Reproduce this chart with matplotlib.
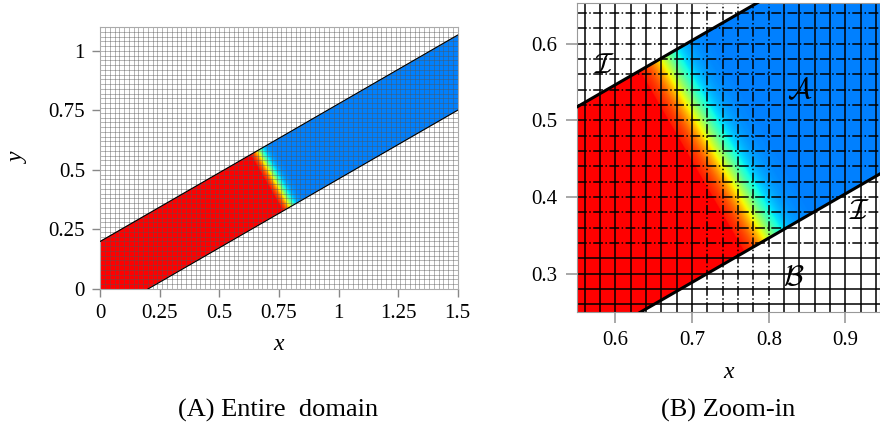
import numpy as np
import matplotlib.pyplot as plt
from matplotlib.colors import ListedColormap

plt.rcParams['font.family'] = ['Liberation Serif', 'DejaVu Serif']
plt.rcParams['mathtext.fontset'] = 'cm'

# channel geometry (tilted strip) and interface data
angle_deg = 30.0
upper_y0 = 0.2          # upper wall crosses x = 0 here
lower_x0 = 0.2          # lower wall crosses y = 0 here
interface_s = 0.865     # interface position along the channel axis
interface_w = 0.026     # interface thickness
phase_values = [1.0, 0.0]   # phase fraction left / right of the interface

# mesh spacing
cell_coarse = 0.02
cell_zoom = 0.02

# axes ranges
full_xlim = [0.0, 1.5]
full_ylim = [0.0, 1.1]
zoom_xlim = [0.55, 0.945]
zoom_ylim = [0.25, 0.653]
full_xticks = [0, 0.25, 0.5, 0.75, 1, 1.25, 1.5]
full_xlabels = ['0', '0.25', '0.5', '0.75', '1', '1.25', '1.5']
full_yticks = [0, 0.25, 0.5, 0.75, 1]
full_ylabels = ['0', '0.25', '0.5', '0.75', '1']
zoom_xticks = [0.6, 0.7, 0.8, 0.9]
zoom_yticks = [0.3, 0.4, 0.5, 0.6]

# region labels in the zoom panel
region_names = [r'$\mathcal{I}$', r'$\mathcal{A}$', r'$\mathcal{I}$', r'$\mathcal{B}$']
region_x = [0.586, 0.84, 0.918, 0.833]
region_y = [0.571, 0.539, 0.380, 0.294]

tan_a = np.tan(np.radians(angle_deg))
cos_a = np.cos(np.radians(angle_deg))
sin_a = np.sin(np.radians(angle_deg))

# colour scale: middle part of jet, light blue (phase 0) up to pure red (phase 1)
jet_part = plt.get_cmap('jet')(np.linspace(0.25, 0.88, 240))
red_end = np.tile([1.0, 0.0, 0.0, 1.0], (16, 1))
phase_cmap = ListedColormap(np.vstack([jet_part, red_end]))


def field(xlim, ylim, n=700):
    x = np.linspace(xlim[0], xlim[1], n)
    y = np.linspace(ylim[0], ylim[1], n)
    X, Y = np.meshgrid(x, y)
    s = X * cos_a + Y * sin_a
    c = phase_values[1] + (phase_values[0] - phase_values[1]) * \
        0.5 * (1 - np.tanh((s - interface_s) / interface_w))
    inside = (Y <= upper_y0 + X * tan_a) & (Y >= (X - lower_x0) * tan_a)
    return np.ma.masked_where(~inside, c)


def walls(ax, xlim, lw):
    xs = np.array([xlim[0], xlim[1]])
    ax.plot(xs, upper_y0 + xs * tan_a, color='black', lw=lw, zorder=4)
    ax.plot(xs, (xs - lower_x0) * tan_a, color='black', lw=lw, zorder=4)


fig = plt.figure(figsize=(8.8, 4.3), dpi=100)

# ----- entire domain -----
ax1 = fig.add_axes([0.1136, 0.3279, 0.4068, 0.6093])
ax1.imshow(field(full_xlim, full_ylim), origin='lower', cmap=phase_cmap,
           vmin=0, vmax=1, extent=full_xlim + full_ylim,
           interpolation='bilinear', zorder=1)
for gx in np.arange(0, full_xlim[1] + 1e-9, cell_coarse):
    ax1.axvline(gx, color='#555555', lw=0.5, alpha=0.6, zorder=2)
for gy in np.arange(0, full_ylim[1] + 1e-9, cell_coarse):
    ax1.axhline(gy, color='#555555', lw=0.5, alpha=0.6, zorder=2)
walls(ax1, full_xlim, 0.8)
ax1.set_xlim(full_xlim)
ax1.set_ylim(full_ylim)
ax1.set_aspect('equal')
ax1.set_xticks(full_xticks, full_xlabels)
ax1.set_yticks(full_yticks, full_ylabels)
ax1.tick_params(direction='out', length=6, width=1.0, color='#888888',
                labelsize=15, pad=5)
for sp in ax1.spines.values():
    sp.set_color('#aaaaaa')
ax1.set_xlabel('x', fontsize=17, fontstyle='italic', labelpad=8)
ax1.set_ylabel('y', fontsize=17, fontstyle='italic', labelpad=14)

# ----- zoom-in -----
ax2 = fig.add_axes([0.6557, 0.2744, 0.3443, 0.7186])
ax2.imshow(field(zoom_xlim, zoom_ylim), origin='lower', cmap=phase_cmap,
           vmin=0, vmax=1, extent=zoom_xlim + zoom_ylim,
           interpolation='bilinear', zorder=1)
for gx in np.arange(0.56, zoom_xlim[1], cell_zoom):
    ls = '-.' if 0.71 < gx < 0.81 else '-'
    ax2.axvline(gx, color='black', lw=1.1, ls=ls, zorder=2)
for gy in np.arange(0.26, zoom_ylim[1], cell_zoom):
    ls = '-.' if gy > 0.33 else '-'
    ax2.axhline(gy, color='black', lw=1.1, ls=ls, zorder=2)
walls(ax2, zoom_xlim, 2.2)
for name, tx, ty in zip(region_names, region_x, region_y):
    ax2.text(tx, ty, name, fontsize=21, ha='center', va='center', zorder=5)
ax2.set_xlim(zoom_xlim)
ax2.set_ylim(zoom_ylim)
ax2.set_aspect('equal')
ax2.set_xticks(zoom_xticks, ['0.6', '0.7', '0.8', '0.9'])
ax2.set_yticks(zoom_yticks, ['0.3', '0.4', '0.5', '0.6'])
ax2.tick_params(direction='out', length=8, width=1.2, color='#999999',
                labelsize=15, pad=6)
for sp in ax2.spines.values():
    sp.set_color('#999999')
ax2.set_xlabel('x', fontsize=17, fontstyle='italic', labelpad=8)

fig.text(0.316, 0.046, '(A) Entire  domain', fontsize=19, ha='center', va='center')
fig.text(0.827, 0.046, '(B) Zoom-in', fontsize=19, ha='center', va='center')

fig.savefig('out.png', dpi=100)
